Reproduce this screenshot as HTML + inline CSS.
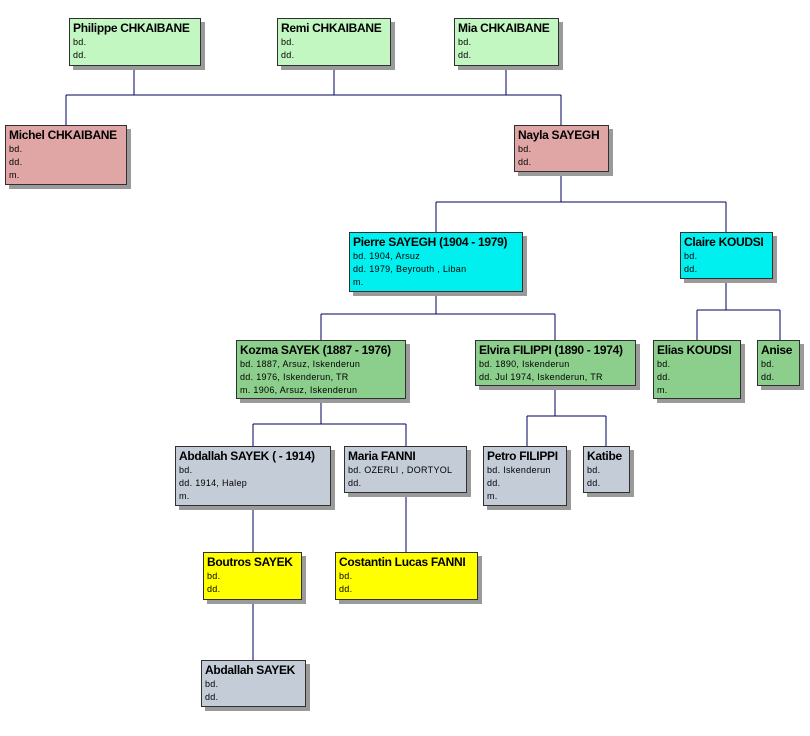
<!DOCTYPE html>
<html><head><meta charset="utf-8"><style>
body{margin:0;width:810px;height:736px;background:#fff;position:relative;overflow:hidden;font-family:"Liberation Sans",Arial,sans-serif}
.b{position:absolute;box-sizing:border-box;border:1px solid #303030;box-shadow:4px 4px 0 #9a9a9a;padding:2px 3px;line-height:13px;color:#000}
.b b{display:block;font-size:12px;letter-spacing:-0.3px;line-height:15px}
.b span{display:block;font-size:9px;letter-spacing:0.3px}
.g1{background:#c2f7c2}.pk{background:#e0a6a6}.cy{background:#00f0f0}.gr{background:#8ccf8c}.gy{background:#c4ccd8}.ye{background:#ffff00}
svg{position:absolute;left:0;top:0}
</style></head><body>
<svg width="810" height="736"><g stroke="#000060" stroke-width="1" fill="none" shape-rendering="crispEdges">
<path d="M134 66V95M334 66V95M506 66V95M66 95H561M66 95V125M561 95V125"/>
<path d="M561 172V202M436 202H726M436 202V232M726 202V232"/>
<path d="M436 292V314M321 314H555M321 314V340M555 314V340"/>
<path d="M726 279V310M697 310H780M697 310V340M780 310V340"/>
<path d="M321 399V424M253 424H406M253 424V446M406 424V446"/>
<path d="M555 386V416M527 416H606M527 416V446M606 416V446"/>
<path d="M253 506V552M406 493V552M253 600V660"/>
</g></svg>
<div class="b g1" style="left:69px;top:18px;width:132px;height:48px"><b>Philippe CHKAIBANE</b><span>bd.</span><span>dd.</span></div>
<div class="b g1" style="left:277px;top:18px;width:114px;height:48px"><b>Remi CHKAIBANE</b><span>bd.</span><span>dd.</span></div>
<div class="b g1" style="left:454px;top:18px;width:105px;height:48px"><b>Mia CHKAIBANE</b><span>bd.</span><span>dd.</span></div>
<div class="b pk" style="left:5px;top:125px;width:122px;height:60px"><b>Michel CHKAIBANE</b><span>bd.</span><span>dd.</span><span>m.</span></div>
<div class="b pk" style="left:514px;top:125px;width:95px;height:47px"><b>Nayla SAYEGH</b><span>bd.</span><span>dd.</span></div>
<div class="b cy" style="left:349px;top:232px;width:174px;height:60px"><b>Pierre SAYEGH (1904 - 1979)</b><span>bd. 1904, Arsuz</span><span>dd. 1979, Beyrouth , Liban</span><span>m.</span></div>
<div class="b cy" style="left:680px;top:232px;width:93px;height:47px"><b>Claire KOUDSI</b><span>bd.</span><span>dd.</span></div>
<div class="b gr" style="left:236px;top:340px;width:170px;height:59px"><b>Kozma SAYEK (1887 - 1976)</b><span>bd. 1887, Arsuz, Iskenderun</span><span>dd. 1976, Iskenderun, TR</span><span>m. 1906, Arsuz, Iskenderun</span></div>
<div class="b gr" style="left:475px;top:340px;width:161px;height:46px"><b>Elvira FILIPPI (1890 - 1974)</b><span>bd. 1890, Iskenderun</span><span>dd. Jul 1974, Iskenderun, TR</span></div>
<div class="b gr" style="left:653px;top:340px;width:88px;height:59px"><b>Elias KOUDSI</b><span>bd.</span><span>dd.</span><span>m.</span></div>
<div class="b gr" style="left:757px;top:340px;width:43px;height:46px"><b>Anise</b><span>bd.</span><span>dd.</span></div>
<div class="b gy" style="left:175px;top:446px;width:156px;height:60px"><b>Abdallah SAYEK ( - 1914)</b><span>bd.</span><span>dd. 1914, Halep</span><span>m.</span></div>
<div class="b gy" style="left:344px;top:446px;width:123px;height:47px"><b>Maria FANNI</b><span>bd. OZERLI , DORTYOL</span><span>dd.</span></div>
<div class="b gy" style="left:483px;top:446px;width:84px;height:60px"><b>Petro FILIPPI</b><span>bd. Iskenderun</span><span>dd.</span><span>m.</span></div>
<div class="b gy" style="left:583px;top:446px;width:47px;height:47px"><b>Katibe</b><span>bd.</span><span>dd.</span></div>
<div class="b ye" style="left:203px;top:552px;width:99px;height:48px"><b>Boutros SAYEK</b><span>bd.</span><span>dd.</span></div>
<div class="b ye" style="left:335px;top:552px;width:143px;height:48px"><b>Costantin Lucas FANNI</b><span>bd.</span><span>dd.</span></div>
<div class="b gy" style="left:201px;top:660px;width:105px;height:47px"><b>Abdallah SAYEK</b><span>bd.</span><span>dd.</span></div>
</body></html>
